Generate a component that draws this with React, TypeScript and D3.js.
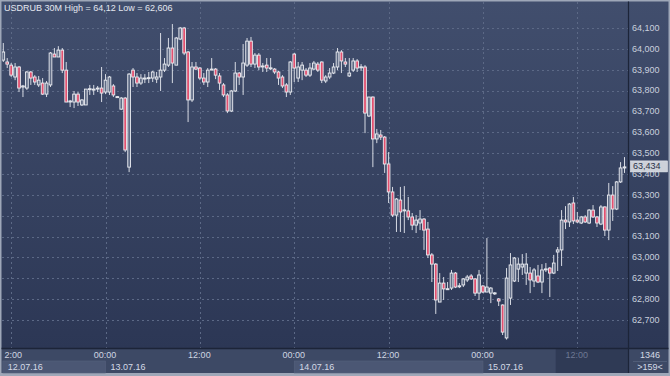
import React from "react";
import * as d3 from "d3";

const W = 670;
const H = 376;

const title = "USDRUB 30M High = 64,12 Low = 62,606";
const startTime = new Date(2016, 6, 12, 11, 0); // first bar, 30-minute bars
const barMinutes = 30;

const open = [
63.946,63.937,63.922,63.865,63.913,63.817,63.812,63.889,63.865,63.827,
63.836,63.783,63.827,63.975,63.961,63.994,63.898,63.748,63.745,63.783,
63.731,63.731,63.807,63.805,63.810,63.812,63.793,63.793,63.822,63.769,
63.711,63.764,63.433,63.898,63.865,63.836,63.858,63.860,63.860,63.855,
63.865,63.898,63.922,64.004,63.922,64.047,64.100,63.985,63.755,63.913,
63.908,63.860,63.841,63.901,63.903,63.870,63.827,63.779,63.702,63.798,
63.884,63.865,63.922,64.037,63.927,63.970,63.916,63.922,63.907,63.903,
63.889,63.865,63.827,63.793,63.975,63.860,63.898,63.898,63.874,63.903,
63.927,63.937,63.846,63.865,63.884,63.913,63.985,63.937,63.870,63.898,
63.942,63.912,63.913,63.678,63.769,63.568,63.587,63.577,63.448,63.314,
63.203,63.275,63.226,63.223,63.194,63.155,63.165,63.184,63.136,63.012,
62.968,62.786,62.877,62.848,62.853,62.925,62.862,62.868,62.892,62.911,
62.897,62.829,62.863,62.834,62.829,62.828,62.801,62.772,62.614,62.805,
62.887,62.944,62.954,62.925,62.925,62.887,62.911,62.882,62.943,62.949,
62.925,63.026,63.036,63.179,63.170,63.261,63.179,63.165,63.194,63.165,
63.227,63.194,63.160,63.242,63.131,63.299,63.232,63.362,63.429
];
const high = [
64.028,63.956,63.932,63.932,63.918,63.827,63.894,63.894,63.874,63.870,
63.860,63.846,63.985,64.004,64.013,64.004,63.937,63.755,63.798,63.793,
63.759,63.807,63.827,63.827,63.822,63.913,63.879,63.870,63.831,63.774,
63.769,63.769,63.884,63.908,63.884,63.879,63.879,63.889,63.894,63.889,
64.076,63.956,64.052,64.119,64.057,64.105,64.105,63.990,63.937,63.937,
63.913,63.884,63.908,63.956,63.908,63.884,63.836,63.788,63.803,63.937,
63.889,64.023,64.052,64.057,63.980,63.980,63.932,63.956,63.956,63.908,
63.894,63.874,63.836,63.942,63.980,63.937,63.937,63.908,63.932,63.942,
63.937,63.940,63.874,63.908,63.932,64.004,63.994,63.956,63.956,63.956,
63.951,63.927,63.922,63.769,63.772,63.616,63.611,63.582,63.505,63.338,
63.285,63.338,63.342,63.290,63.213,63.203,63.227,63.189,63.170,63.021,
62.973,62.925,62.906,62.882,62.940,62.930,62.877,62.901,62.916,62.920,
62.901,62.940,62.868,63.093,62.858,62.834,62.805,62.775,62.949,63.021,
63.002,62.997,63.016,63.021,62.954,62.949,62.964,62.968,62.973,62.954,
63.012,63.050,63.227,63.246,63.261,63.290,63.218,63.199,63.203,63.232,
63.251,63.199,63.251,63.245,63.357,63.342,63.366,63.457,63.481
];
const low = [
63.937,63.908,63.865,63.850,63.793,63.769,63.803,63.827,63.827,63.817,
63.779,63.769,63.817,63.961,63.961,63.884,63.745,63.721,63.716,63.726,
63.726,63.731,63.779,63.779,63.793,63.745,63.783,63.779,63.769,63.766,
63.707,63.505,63.409,63.817,63.817,63.827,63.836,63.836,63.841,63.836,
63.798,63.889,63.913,63.836,63.922,64.042,63.970,63.649,63.745,63.898,
63.850,63.827,63.817,63.898,63.855,63.803,63.769,63.692,63.697,63.793,
63.827,63.779,63.913,63.913,63.908,63.898,63.889,63.889,63.898,63.879,
63.827,63.812,63.769,63.779,63.841,63.841,63.850,63.865,63.865,63.898,
63.889,63.836,63.836,63.855,63.879,63.898,63.884,63.913,63.865,63.889,
63.889,63.894,63.596,63.673,63.433,63.548,63.563,63.405,63.261,63.194,
63.122,63.122,63.117,63.179,63.131,63.117,63.131,63.036,62.997,62.882,
62.729,62.786,62.796,62.844,62.844,62.853,62.853,62.858,62.882,62.892,
62.815,62.796,62.829,62.834,62.781,62.820,62.767,62.628,62.606,62.772,
62.882,62.882,62.916,62.868,62.829,62.858,62.877,62.829,62.930,62.810,
62.920,62.935,62.959,63.136,63.146,63.160,63.165,63.160,63.165,63.160,
63.189,63.146,63.155,63.103,63.083,63.175,63.227,63.357,63.405
];
const close = [
63.985,63.927,63.874,63.913,63.812,63.822,63.889,63.860,63.841,63.850,
63.783,63.836,63.980,63.961,63.994,63.898,63.745,63.750,63.783,63.745,
63.755,63.807,63.809,63.807,63.812,63.788,63.850,63.865,63.779,63.771,
63.764,63.515,63.879,63.865,63.836,63.860,63.860,63.862,63.889,63.865,
63.898,63.927,64.004,63.932,64.052,64.100,63.980,63.755,63.913,63.903,
63.860,63.841,63.898,63.903,63.874,63.836,63.779,63.702,63.798,63.884,
63.865,63.932,64.037,63.927,63.970,63.913,63.918,63.908,63.909,63.889,
63.860,63.822,63.793,63.937,63.908,63.913,63.922,63.874,63.908,63.932,
63.898,63.850,63.865,63.884,63.913,63.985,63.942,63.927,63.884,63.942,
63.908,63.914,63.692,63.769,63.568,63.592,63.577,63.448,63.314,63.203,
63.280,63.218,63.228,63.194,63.155,63.179,63.184,63.131,63.012,62.968,
62.796,62.877,62.849,62.850,62.925,62.858,62.864,62.897,62.906,62.897,
62.829,62.916,62.834,62.858,62.853,62.830,62.791,62.642,62.901,62.964,
62.997,62.968,62.968,62.968,62.892,62.940,62.882,62.940,62.945,62.925,
62.973,63.036,63.179,63.170,63.256,63.175,63.170,63.194,63.170,63.227,
63.194,63.165,63.242,63.131,63.299,63.232,63.362,63.429,63.434
];

const yTicks = [64.1, 64.0, 63.9, 63.8, 63.7, 63.6, 63.5, 63.4, 63.3, 63.2, 63.1, 63.0, 62.9, 62.8, 62.7];
const lastPrice = 63.434;
const barCount = "1346";
const visibleBars = ">159<";
const futureFromBar = 140.5;

const FONT = "'Liberation Sans', Arial, sans-serif";

export default function App() {
  const n = open.length;
  const plotLeft = 2;
  const plotRight = 628;
  const plotTop = 2;
  const plotBottom = 348;

  const x = d3.scaleLinear().domain([0, n - 1]).range([3.3, 624.5]);
  const y = d3.scaleLinear().domain([62.7, 64.1]).range([320, 28]);
  const fmt = (v: number) => d3.format(".3f")(v).replace(".", ",");

  const times = d3.range(n).map((i) => new Date(startTime.getTime() + i * barMinutes * 60000));
  const timeTicks = d3.range(n).filter((i) => times[i].getMinutes() === 0 && times[i].getHours() % 12 === 0);
  const dayStarts = timeTicks.filter((i) => times[i].getHours() === 0);
  const dateFmt = d3.timeFormat("%d.%m.%y");
  const hourFmt = d3.timeFormat("%H:%M");

  const segBounds = [x(-0.5) + 1.5, ...dayStarts.map((i) => x(i)), x(futureFromBar)];
  const segDates = [times[0], ...dayStarts.map((i) => times[i])];

  const bw = 2.7;

  return (
    <svg width={W} height={H} style={{ position: "absolute", left: 0, top: 0 }} xmlns="http://www.w3.org/2000/svg">
      <defs>
        <linearGradient id="bg" x1="0" y1="0" x2="0" y2="1">
          <stop offset="0%" stopColor="#414e6d" />
          <stop offset="100%" stopColor="#2c3755" />
        </linearGradient>
        <clipPath id="plotclip">
          <rect x={plotLeft} y={plotTop} width={plotRight - plotLeft} height={plotBottom - plotTop} />
        </clipPath>
        <clipPath id="axisclip">
          <rect x={4.4} y={plotBottom} width={plotRight - 4.4} height={H - plotBottom} />
        </clipPath>
      </defs>
      <rect x={0} y={0} width={W} height={H} fill="#9ea7b8" />
      <rect x={1.5} y={1.5} width={W - 3} height={plotBottom - 1.5} fill="url(#bg)" />
      {/* bottom bar */}
      <rect x={1.5} y={plotBottom} width={W - 3} height={H - plotBottom - 3} fill="#3d4965" />
      {segBounds.slice(0, -1).map((x0, k) => (
        <g key={"seg" + k}>
          {k % 2 === 0 && (
            <rect x={x0} y={361} width={segBounds[k + 1] - x0} height={12} fill="#4b5774" stroke="#56627e" strokeWidth={0.6} />
          )}
          <text x={x0 + 5} y={367.5} fontFamily={FONT} fontSize={9} fill="#d4dae6" dominantBaseline="middle">
            {dateFmt(segDates[k])}
          </text>
        </g>
      ))}
      <rect x={x(futureFromBar)} y={349} width={plotRight - x(futureFromBar)} height={24} fill="#2f3a55" />

      {/* grid */}
      <g clipPath="url(#plotclip)">
        {yTicks.map((t) => (
          <line key={"hg" + t} x1={plotLeft} x2={plotRight} y1={Math.round(y(t)) + 0.5} y2={Math.round(y(t)) + 0.5}
            stroke="#5c6986" strokeWidth={1} strokeDasharray="2,3" />
        ))}
        {timeTicks.map((i) => (
          <line key={"vg" + i} x1={Math.round(x(i)) + 0.5} x2={Math.round(x(i)) + 0.5} y1={plotTop} y2={plotBottom}
            stroke="#5c6986" strokeWidth={1} strokeDasharray="2,3" />
        ))}

        {/* candles */}
        {d3.range(n).map((i) => {
          const up = close[i] >= open[i];
          const cx = x(i);
          const top = y(Math.max(open[i], close[i]));
          const bot = y(Math.min(open[i], close[i]));
          const h = Math.max(bot - top, 1);
          return (
            <g key={"c" + i}>
              <line x1={cx} x2={cx} y1={y(high[i])} y2={y(low[i])} stroke="#d6dae3" strokeWidth={1} />
              <rect x={cx - bw / 2} y={top} width={bw} height={h}
                fill={up ? "#606c86" : "#e2506f"} stroke="#eceef3" strokeWidth={0.9} />
            </g>
          );
        })}
      </g>

      {/* separators */}
      <line x1={plotRight + 0.5} x2={plotRight + 0.5} y1={1.5} y2={H - 3} stroke="#1c2438" strokeWidth={1.2} />
      <line x1={1.5} x2={W - 1.5} y1={plotBottom + 0.5} y2={plotBottom + 0.5} stroke="#1c2438" strokeWidth={1.4} />

      {/* title */}
      <text x={4} y={8.5} fontFamily={FONT} fontSize={9} fill="#e4e8f0" dominantBaseline="middle">{title}</text>

      {/* y axis labels */}
      {yTicks.map((t) => (
        <text key={"yl" + t} x={632} y={y(t) + 0.5} fontFamily={FONT} fontSize={9} fill="#c9d0dd" dominantBaseline="middle">
          {fmt(t)}
        </text>
      ))}
      <rect x={630.5} y={y(lastPrice) - 6} width={37} height={11} fill="#cdd1d9" stroke="#e8eaef" strokeWidth={0.6} />
      <text x={633} y={y(lastPrice) - 0.3} fontFamily={FONT} fontSize={9} fill="#2a3248" dominantBaseline="middle">
        {fmt(lastPrice)}
      </text>

      {/* time labels */}
      <g clipPath="url(#axisclip)">
        {timeTicks.map((i) => (
          <text key={"tl" + i} x={x(i) - 0.5} y={356} fontFamily={FONT} fontSize={9} textAnchor="middle"
            fill={i > futureFromBar ? "#6d7893" : "#cfd6e2"} dominantBaseline="middle">
            {hourFmt(times[i])}
          </text>
        ))}
      </g>

      {/* bottom right */}
      <text x={650} y={356} fontFamily={FONT} fontSize={9} textAnchor="middle" fill="#d4dae6" dominantBaseline="middle">{barCount}</text>
      <line x1={633} x2={667} y1={361.5} y2={361.5} stroke="#56627e" strokeWidth={0.8} />
      <text x={650} y={367.5} fontFamily={FONT} fontSize={9} textAnchor="middle" fill="#d4dae6" dominantBaseline="middle">{visibleBars}</text>
    </svg>
  );
}
